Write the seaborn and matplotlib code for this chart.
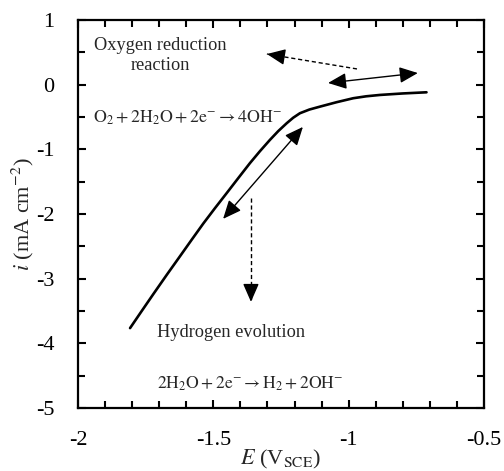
import numpy as np
import pandas as pd
import matplotlib
matplotlib.use("Agg")
import matplotlib.pyplot as plt
import seaborn as sns
from matplotlib.ticker import MultipleLocator

# ---- data ----
potential_V = [-1.808, -1.765, -1.722, -1.672, -1.623, -1.580, -1.537, -1.494,
               -1.451, -1.408, -1.365, -1.328, -1.291, -1.260, -1.229, -1.205,
               -1.180, -1.145, -1.106, -1.045, -0.983, -0.935, -0.884, -0.80,
               -0.712]
current_mA = [-3.766, -3.502, -3.240, -2.940, -2.652, -2.398, -2.147, -1.910,
              -1.679, -1.446, -1.215, -1.030, -0.855, -0.718, -0.597, -0.512,
              -0.442, -0.385, -0.340, -0.272, -0.210, -0.180, -0.159, -0.136,
              -0.118]
x_ticks = [-2, -1.5, -1, -0.5]
x_tick_labels = ["-2", "-1.5", "-1", "-0.5"]
y_ticks = [1, 0, -1, -2, -3, -4, -5]
y_tick_labels = ["1", "0", "-1", "-2", "-3", "-4", "-5"]

df = pd.DataFrame({"E": potential_V, "i": current_mA})

sns.set_theme(style="ticks")
plt.rcParams["font.family"] = ["Liberation Serif", "DejaVu Serif"]
plt.rcParams["mathtext.fontset"] = "stix"

fig = plt.figure(figsize=(5.04, 4.71), dpi=100)
ax = fig.add_axes([0.155, 0.134, 0.805, 0.8235])

sns.lineplot(data=df, x="E", y="i", ax=ax, color="black", linewidth=1.9,
             sort=False, estimator=None)
ax.lines[0].set_solid_joinstyle("round")
ax.lines[0].set_solid_capstyle("round")

ax.set_xlim(-2, -0.5)
ax.set_ylim(-5, 1)
ax.set_xticks(x_ticks)
ax.set_xticklabels(x_tick_labels)
ax.set_yticks(y_ticks)
ax.set_yticklabels(y_tick_labels)
ax.xaxis.set_minor_locator(MultipleLocator(0.1))
ax.yaxis.set_minor_locator(MultipleLocator(0.5))
ax.tick_params(which="both", direction="in", top=True, right=True,
               width=1.5, colors="black", labelsize=16, pad=17)
ax.tick_params(which="major", length=6)
ax.tick_params(which="minor", length=5)
for s in ax.spines.values():
    s.set_linewidth(1.6)
    s.set_color("black")

ax.set_xlabel(r"$E$ (V$_{\mathrm{SCE}}$)", fontsize=16, labelpad=-2)
ax.set_ylabel(r"$i$ (mA cm$^{-2}$)", fontsize=16, labelpad=0)

# ---- annotations ----
ax.text(-1.697, 0.45, "Oxygen reduction\nreaction", fontsize=13.2,
        ha="center", va="center", linespacing=1.25)
ax.text(-1.945, -0.52, r"$\mathrm{O_2 + 2H_2O + 2e^{-} \rightarrow 4OH^{-}}$",
        fontsize=12.8, ha="left", va="center")
ax.text(-1.71, -3.84, "Hydrogen evolution", fontsize=13.2, ha="left", va="center")
ax.text(-1.71, -4.63, r"$\mathrm{2H_2O + 2e^{-} \rightarrow H_2 + 2OH^{-}}$",
        fontsize=12.6, ha="left", va="center")

head = dict(color="black", lw=1.0, shrinkA=0, shrinkB=0, mutation_scale=14)

# solid double arrows
ax.annotate("", xy=(-0.744, 0.18), xytext=(-1.076, 0.026),
            arrowprops=dict(arrowstyle="<|-|>,head_length=0.8,head_width=0.35", **head))
ax.annotate("", xy=(-1.169, -0.654), xytext=(-1.464, -2.076),
            arrowprops=dict(arrowstyle="<|-|>,head_length=0.8,head_width=0.35", **head))

# dashed arrows
def dashed_arrow(start, tip):
    ax.plot([start[0], tip[0]], [start[1], tip[1]], color="black", lw=1.0,
            linestyle=(0, (3, 2)))
    near = (tip[0] + 0.06 * (start[0] - tip[0]), tip[1] + 0.06 * (start[1] - tip[1]))
    ax.annotate("", xy=tip, xytext=near,
                arrowprops=dict(arrowstyle="-|>,head_length=0.8,head_width=0.35", **head))

dashed_arrow((-0.969, 0.243), (-1.302, 0.474))
dashed_arrow((-1.361, -1.75), (-1.361, -3.36))

fig.savefig("out.png", dpi=100)
